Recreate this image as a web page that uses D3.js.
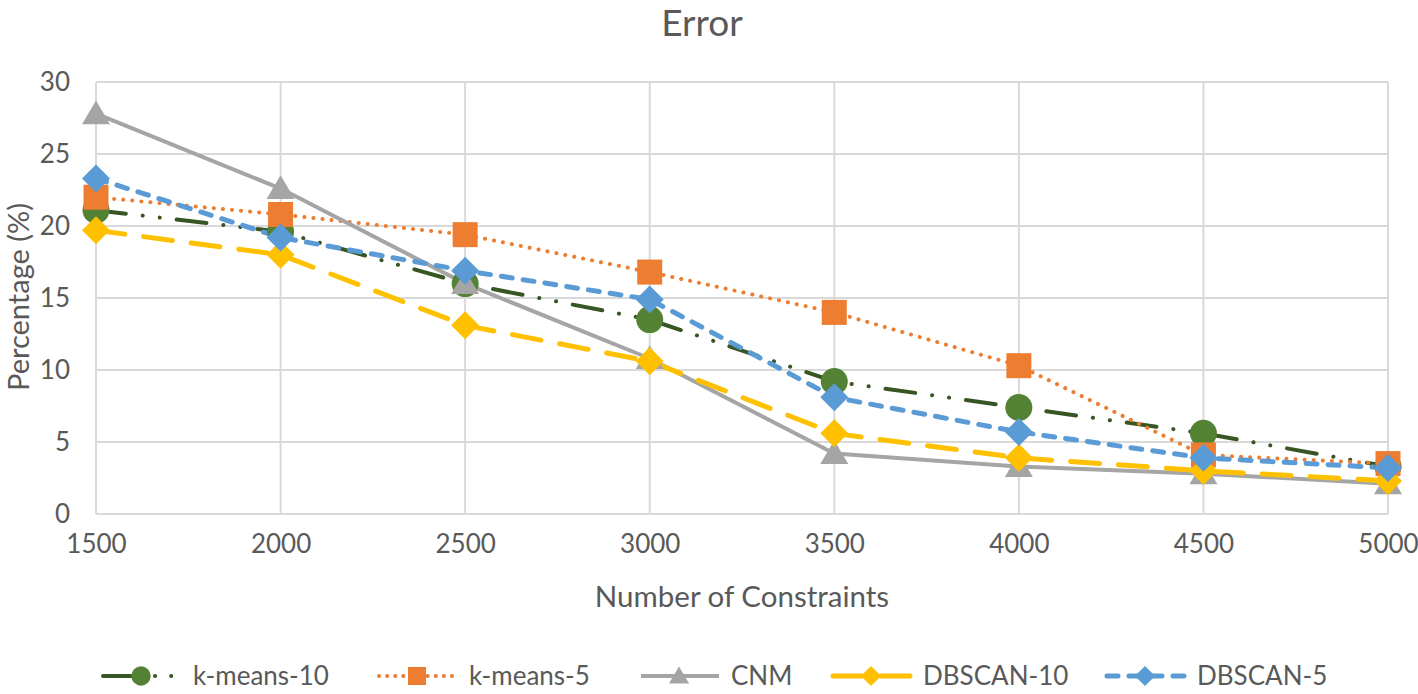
<!DOCTYPE html>
<html><head><meta charset="utf-8">
<script src="https://cdn.jsdelivr.net/npm/d3@7"></script>
<style>body{margin:0;background:#fff;} text{font-family:Lato,"Open Sans",sans-serif;fill:#595959;}</style>
</head><body>
<svg id="c" width="1418" height="694"></svg>
<script>
const categories = [1500, 2000, 2500, 3000, 3500, 4000, 4500, 5000];
const kmeans10 = [21.1, 19.6, 16.0, 13.5, 9.2, 7.4, 5.6, 3.3];
const kmeans5 = [22.0, 20.8, 19.4, 16.8, 14.0, 10.3, 4.1, 3.5];
const cnm = [27.8, 22.6, 16.0, 10.8, 4.2, 3.3, 2.8, 2.1];
const dbscan10 = [19.7, 18.0, 13.1, 10.6, 5.6, 3.9, 3.0, 2.3];
const dbscan5 = [23.3, 19.2, 16.9, 14.9, 8.1, 5.7, 3.9, 3.2];
const yTicks = [0, 5, 10, 15, 20, 25, 30];

// custom symbols (size = half-extent in px)
const sym = {
  circle: (r)=>`M${r},0A${r},${r},0,1,1,${-r},0A${r},${r},0,1,1,${r},0Z`,
  square: (r)=>`M${-r},${-r}H${r}V${r}H${-r}Z`,
  triangle: (r)=>`M0,${-r*0.95}L${r},${r*0.75}L${-r},${r*0.75}Z`,
  diamond: (r)=>`M0,${-r}L${r},0L0,${r}L${-r},0Z`
};

const series = [
  {name:"k-means-10", values:kmeans10, line:"#375623", fill:"#548235", dash:"30,17,0.1,17,0.1,17", width:4, sym:"circle", r:13.5, cap:"round"},
  {name:"k-means-5", values:kmeans5, line:"#ED7D31", fill:"#ED7D31", dash:"0.1,9", width:4, sym:"square", r:12.5, cap:"round"},
  {name:"CNM", values:cnm, line:"#A5A5A5", fill:"#A5A5A5", dash:null, width:4, sym:"triangle", r:14, cap:"butt"},
  {name:"DBSCAN-10", values:dbscan10, line:"#FFC000", fill:"#FFC000", dash:"29,19", width:5, sym:"diamond", r:14, cap:"round"},
  {name:"DBSCAN-5", values:dbscan5, line:"#5B9BD5", fill:"#5B9BD5", dash:"11,11", width:5, sym:"diamond", r:14, cap:"round"}
];

const svg = d3.select("#c");
const x = d3.scalePoint().domain(categories).range([96, 1388]);
const y = d3.scaleLinear().domain([0, 30]).range([514, 82]);

// gridlines
svg.append("g").selectAll("line").data(yTicks).join("line")
  .attr("x1", 96).attr("x2", 1388).attr("y1", d=>y(d)).attr("y2", d=>y(d))
  .attr("stroke", "#d9d9d9").attr("stroke-width", 2);
svg.append("g").selectAll("line").data(categories).join("line")
  .attr("x1", d=>x(d)).attr("x2", d=>x(d)).attr("y1", y(0)).attr("y2", y(30))
  .attr("stroke", "#d9d9d9").attr("stroke-width", 2);

// axes
const yAxis = svg.append("g").attr("transform", "translate(96,0)")
  .call(d3.axisLeft(y).tickValues(yTicks).tickSize(0).tickPadding(26));
yAxis.select(".domain").remove();
yAxis.selectAll("text").style("font-size","26px").attr("fill","#595959");
const xAxis = svg.append("g").attr("transform", `translate(0,${y(0)})`)
  .call(d3.axisBottom(x).tickSize(0).tickPadding(21));
xAxis.select(".domain").remove();
xAxis.selectAll("text").style("font-size","26px").attr("fill","#595959");

// titles
svg.append("text").attr("x", 702).attr("y", 36).attr("text-anchor","middle").style("font-size","37px").text("Error");
svg.append("text").attr("x", 742).attr("y", 607).attr("text-anchor","middle").style("font-size","29.5px").text("Number of Constraints");
svg.append("text").attr("transform","translate(29,297) rotate(-90)").attr("text-anchor","middle").style("font-size","29px").text("Percentage (%)");

// lines
const lineGen = d3.line().x((d,i)=>x(categories[i])).y(d=>y(d));
series.forEach(s=>{
  const p = svg.append("path").datum(s.values).attr("d", lineGen)
    .attr("fill","none").attr("stroke", s.line).attr("stroke-width", s.width)
    .attr("stroke-linecap", s.cap).attr("stroke-linejoin","round");
  if (s.dash) p.attr("stroke-dasharray", s.dash);
});
// markers
series.forEach(s=>{
  svg.append("g").selectAll("path").data(s.values).join("path")
    .attr("transform",(d,i)=>`translate(${x(categories[i])},${y(d)})`)
    .attr("d", sym[s.sym](s.r))
    .attr("fill", s.fill);
});

// legend
const legX = [101, 377, 639, 831, 1105];
const lg = svg.append("g");
series.forEach((s,i)=>{
  const g = lg.append("g").attr("transform", `translate(${legX[i]},676)`);
  const l = g.append("line").attr("x1",2).attr("x2",80).attr("y1",0).attr("y2",0)
    .attr("stroke", s.line).attr("stroke-width", s.width).attr("stroke-linecap", s.cap);
  if (s.dash) l.attr("stroke-dasharray", s.dash === "0.1,9" ? "0.1,8" : (s.name==="k-means-10" ? "36,16,0.1,16,0.1,16" : s.dash));
  g.append("path").attr("transform","translate(40,0)")
    .attr("d", sym[s.sym](s.r*0.72)).attr("fill", s.fill);
  g.append("text").attr("x", 92).attr("y", 9).style("font-size","26px").text(s.name);
});
</script>
</body></html>
